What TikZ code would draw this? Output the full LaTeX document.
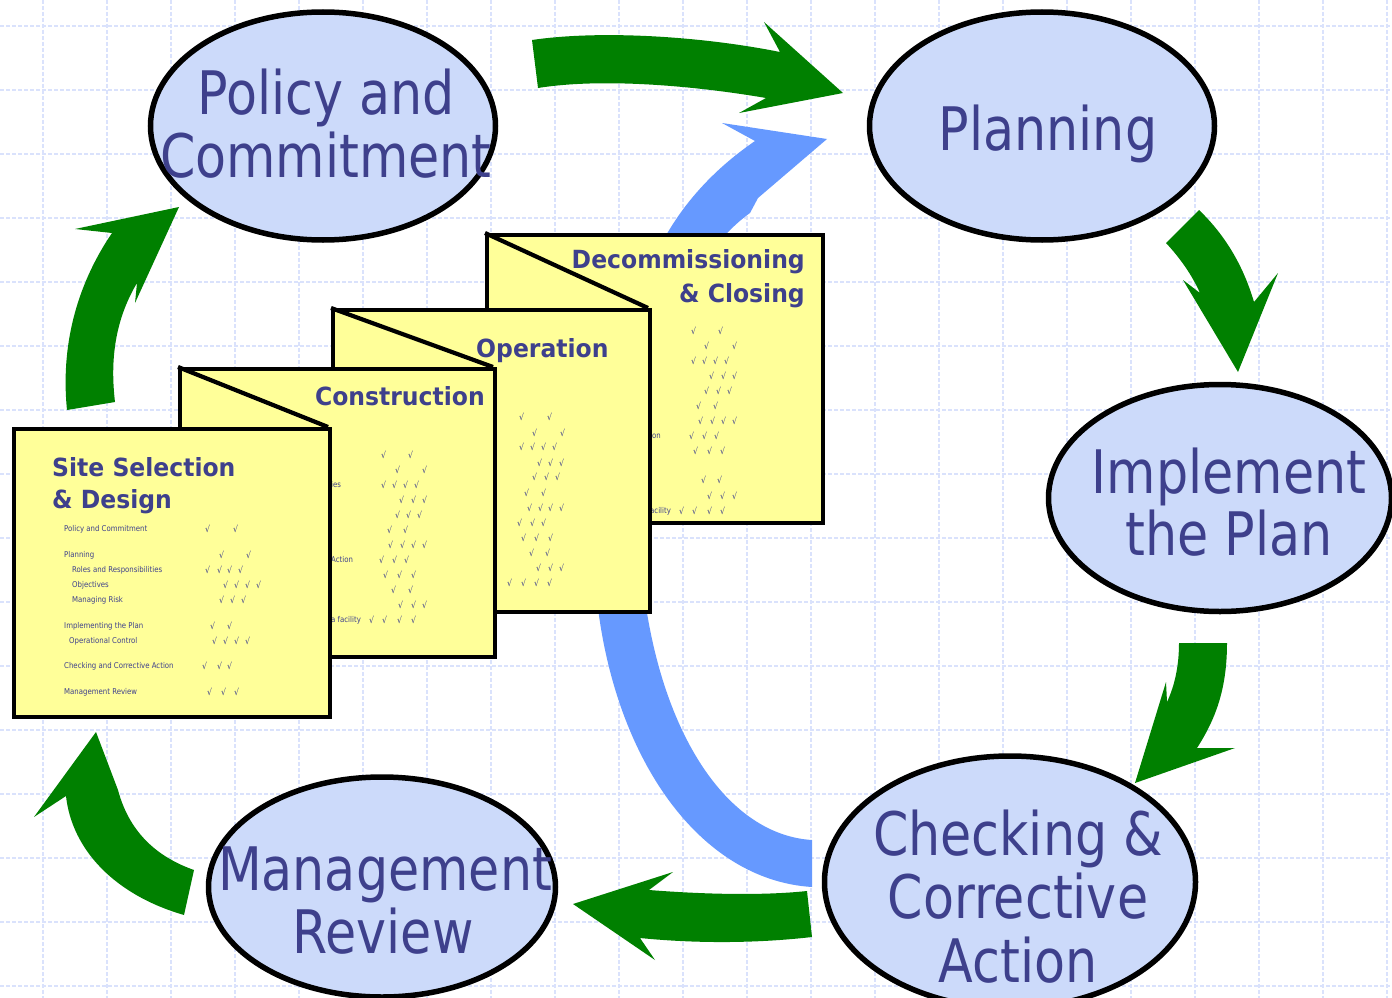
\documentclass[tikz,border=0pt]{standalone}
\usepackage{fontspec}
\setmainfont{DejaVu Sans}
\newfontfamily\bigf[FakeStretch=0.845]{DejaVu Sans}
\newfontfamily\titf[FakeStretch=0.94]{DejaVu Sans}
\newfontfamily\smf[FakeStretch=0.87]{DejaVu Sans}
\usetikzlibrary{shapes.geometric}
\definecolor{txt}{RGB}{62,64,140}
\definecolor{grn}{RGB}{0,128,0}
\definecolor{blu}{RGB}{102,153,255}
\definecolor{ellf}{RGB}{204,218,250}
\definecolor{docf}{RGB}{255,255,153}
\definecolor{gridc}{RGB}{218,226,252}
\begin{document}
\begin{tikzpicture}[x=1pt,y=-1pt,
 ell/.style={ellipse, draw=black, line width=5.5pt, fill=ellf, inner sep=0pt},
 big/.style={font=\bigf\fontsize{60}{63}\selectfont, text=txt, inner sep=0pt, anchor=base},
 ttl/.style={font=\titf\bfseries\fontsize{25}{32}\selectfont, text=txt, inner sep=0pt},
 sm/.style={font=\smf\fontsize{8}{9}\selectfont, text=txt, inner sep=0pt, anchor=west},
 ck/.style={font=\smf\fontsize{9}{9}\selectfont, text=txt, inner sep=0pt, anchor=west},
 doc/.style={draw=black, line width=4.2pt, fill=docf, rectangle, inner sep=0pt, anchor=north west},
 fold/.style={draw=black, line width=4.2pt},
 garrow/.style={fill=grn},
 barrow/.style={fill=blu},
 gridl/.style={draw=gridc, line width=1.3pt, dash pattern=on 4pt off 2pt}]
\useasboundingbox (0,0) rectangle (1392,998);
\fill[white] (0,0) rectangle (1392,998);
% grid
\foreach \i in {0,...,21} \draw[gridl] (43+64*\i,0) -- (43+64*\i,998);
\foreach \j in {0,...,15} \draw[gridl] (0,26+64*\j) -- (1392,26+64*\j);

% blue arrow (behind documents)
\fill[barrow] (812,840) .. controls (730,835) and (665,740) .. (645,600)
  .. controls (635,460) and (680,300) .. (728,232)
  .. controls (736,224) and (743,218) .. (750,213) -- (758,198) -- (827,139) -- (722,123) -- (755,141)
  .. controls (720,165) and (690,195) .. (668,232)
  .. controls (620,320) and (590,460) .. (597,600)
  .. controls (615,760) and (700,880) .. (812,887) -- cycle;

% green arrows
\fill[garrow] (532,40) .. controls (600,30) and (700,36) .. (780,52) -- (764,22) -- (843,93) -- (739,113) -- (766,98)
  .. controls (690,85) and (600,78) .. (538,88) -- cycle;
\fill[garrow] (1199,210) .. controls (1225,235) and (1243,265) .. (1254,302) -- (1278,273) -- (1238,372) -- (1183,280) -- (1200,293)
  .. controls (1192,275) and (1180,258) .. (1166,243) -- cycle;
\fill[garrow] (1179,643) -- (1227,643) .. controls (1227,690) and (1215,720) .. (1197,748) -- (1235,748) -- (1135,783) -- (1166,682) -- (1167,702)
  .. controls (1175,685) and (1179,665) .. (1179,643) -- cycle;
\fill[garrow] (807,891) .. controls (760,896) and (700,894) .. (649,890) -- (673,872) -- (573,904) -- (655,960) -- (640,938)
  .. controls (700,944) and (760,943) .. (812,937) -- cycle;
\fill[garrow] (194,870) .. controls (160,858) and (130,835) .. (118,790) -- (96,732) -- (34,817) -- (66,796)
  .. controls (72,850) and (115,895) .. (184,915) -- cycle;
\fill[garrow] (67,410) .. controls (60,340) and (80,280) .. (112,233) -- (75,229) -- (179,207) -- (135,303) -- (137,283)
  .. controls (115,320) and (110,360) .. (115,402) -- cycle;

% documents
\coordinate (decTL) at (485,233);
\coordinate (opTL) at (331,308);
\coordinate (opTR) at (648,308);
\coordinate (conTL) at (178,367);
\coordinate (conTR) at (493,367);
\coordinate (siteTR) at (328,427);

\node[doc, minimum width=336pt, minimum height=288pt] (dec) at (decTL) {};
\draw[fold] (decTL) -- (opTR);
\node[ttl, anchor=base east] (dect1) at (805,268) {Decommissioning};
\node[ttl, anchor=base east] (dect2) at (805,302) {\& Closing};
\node[sm] (decf1) at (650,436) {ion};
\node[sm] (decf2) at (650,511) {acility};
\foreach \y/\xs in {331/{691,718}, 346/{704,732}, 361/{691,702,713,724}, 376/{709,721,732}, 391/{704,716,727}, 406/{696,713}, 421/{698,710,721,732}, 436/{689,702,714}, 451/{693,707,720}, 480/{701,717}, 496/{707,720,732}, 511/{679,692,707,720}}
  {\foreach \x in \xs {\node[ck] (kd-\x-\y) at (\x,\y) {√};}}

\node[doc, minimum width=317pt, minimum height=302pt] (op) at (opTL) {};
\draw[fold] (opTL) -- (conTR);
\node[ttl, anchor=base west] (opt) at (476,357) {Operation};
\foreach \y/\xs in {417/{519,547}, 433/{532,560}, 447/{519,530,541,552}, 463/{537,548,559}, 477/{532,544,555}, 493/{524,541}, 508/{527,538,548,559}, 523/{517,530,541}, 538/{521,534,548}, 553/{529,545}, 568/{536,548,559}, 583/{490,507,521,534,547}}
  {\foreach \x in \xs {\node[ck] (ko-\x-\y) at (\x,\y) {√};}}

\node[doc, minimum width=315pt, minimum height=288pt] (con) at (conTL) {};
\draw[fold] (conTL) -- (siteTR);
\node[ttl, anchor=base east] (cont) at (485,405) {Construction};
\node[sm] (conf1) at (331,485) {ies};
\node[sm] (conf2) at (331,560) {Action};
\node[sm] (conf3) at (331,620) {a facility};
\foreach \y/\xs in {455/{381,408}, 470/{395,422}, 485/{381,392,403,414}, 500/{399,411,422}, 515/{395,406,417}, 530/{387,403}, 545/{388,400,411,422}, 560/{379,392,404}, 575/{383,397,411}, 590/{391,408}, 605/{398,411,422}, 620/{369,382,397,411}}
  {\foreach \x in \xs {\node[ck] (kc-\x-\y) at (\x,\y) {√};}}

\node[doc, minimum width=316pt, minimum height=288pt] (site) at (12,427) {};
\node[ttl, anchor=base west] (sitet1) at (52,476) {Site Selection};
\node[ttl, anchor=base west] (sitet2) at (52,508) {\& Design};
\node[sm] (s1) at (64,529) {Policy and Commitment};
\node[sm] (s2) at (64,555) {Planning};
\node[sm] (s3) at (72,570) {Roles and Responsibilities};
\node[sm] (s4) at (72,585) {Objectives};
\node[sm] (s5) at (72,600) {Managing Risk};
\node[sm] (s6) at (64,626) {Implementing the Plan};
\node[sm] (s7) at (69,641) {Operational Control};
\node[sm] (s8) at (64,666) {Checking and Corrective Action};
\node[sm] (s9) at (64,692) {Management Review};
\foreach \y/\xs in {529/{205,233}, 555/{219,246}, 570/{205,217,227,238}, 585/{223,234,245,256}, 600/{219,230,241}, 626/{210,227}, 641/{212,223,234,245}, 666/{202,217,227}, 692/{207,221,234}}
  {\foreach \x in \xs {\node[ck] (ks-\x-\y) at (\x,\y) {√};}}

% ellipses
\node[ell, minimum width=345pt, minimum height=228pt] (pol) at (323,126) {};
\node[ell, minimum width=345pt, minimum height=228pt] (pla) at (1042,126) {};
\node[ell, minimum width=343pt, minimum height=227pt] (imp) at (1220,498) {};
\node[ell, minimum width=371pt, minimum height=252pt] (chk) at (1010,882) {};
\node[ell, minimum width=347pt, minimum height=220pt] (mgt) at (382,887) {};

\node[big] (pol1) at (326,114) {Policy and};
\node[big] (pol2) at (326,177) {Commitment};
\node[big] (pla1) at (1048,150) {Planning};
\node[big] (imp1) at (1229,493) {Implement};
\node[big] (imp2) at (1229,555) {the Plan};
\node[big] (chk1) at (1018,855) {Checking \&};
\node[big] (chk2) at (1018,918) {Corrective};
\node[big] (chk3) at (1018,982) {Action};
\node[big] (mgt1) at (385,890) {Management};
\node[big] (mgt2) at (383,953) {Review};
\end{tikzpicture}
\end{document}
